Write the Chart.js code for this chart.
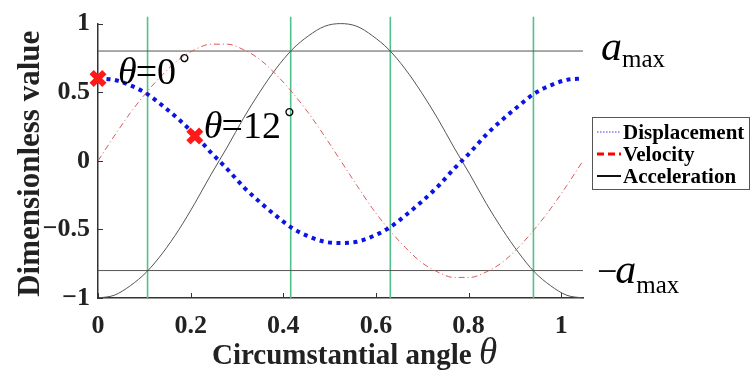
<!DOCTYPE html>
<html>
<head>
<meta charset="utf-8">
<script src="https://cdn.jsdelivr.net/npm/chart.js@4"></script>
<style>
  html, body { margin: 0; padding: 0; background: #fff; }
  #wrap { width: 750px; height: 371px; position: relative; }
</style>
</head>
<body>
<div id="wrap"><canvas id="motionChart" width="750" height="371"></canvas></div>
<script>
// Ángulo circunferencial (rad), cada 2 grados de 0 a 60
const angleRad = [0.000, 0.035, 0.070, 0.105, 0.140, 0.175, 0.209, 0.244, 0.279, 0.314,
                  0.349, 0.384, 0.419, 0.454, 0.489, 0.524, 0.559, 0.593, 0.628, 0.663,
                  0.698, 0.733, 0.768, 0.803, 0.838, 0.873, 0.908, 0.942, 0.977, 1.012, 1.047];
const displacement = [0.60, 0.59, 0.55, 0.49, 0.40, 0.30, 0.19, 0.06, -0.06, -0.19,
                      -0.30, -0.40, -0.49, -0.55, -0.59, -0.60, -0.59, -0.55, -0.49, -0.40,
                      -0.30, -0.19, -0.06, 0.06, 0.19, 0.30, 0.40, 0.49, 0.55, 0.59, 0.60];
const velocity = [0.00, 0.18, 0.35, 0.50, 0.63, 0.74, 0.81, 0.85, 0.85, 0.81,
                  0.74, 0.63, 0.50, 0.35, 0.18, 0.00, -0.18, -0.35, -0.50, -0.63,
                  -0.74, -0.81, -0.85, -0.85, -0.81, -0.74, -0.63, -0.50, -0.35, -0.18, 0.00];
const acceleration = [-1.00, -0.98, -0.91, -0.81, -0.67, -0.50, -0.31, -0.10, 0.10, 0.31,
                      0.50, 0.67, 0.81, 0.91, 0.98, 1.00, 0.98, 0.91, 0.81, 0.67,
                      0.50, 0.31, 0.10, -0.10, -0.31, -0.50, -0.67, -0.81, -0.91, -0.98, -1.00];

// Límites de aceleración y cruces con ellos
const accelLimit = 0.8;
const limitCrossings = [0.107, 0.416, 0.631, 0.940];
const crossingTop = 1.05;

// Posiciones marcadas (θ=0° y θ=12°)
const markerAngles = [0.000, 0.209];
const markerValues = [0.60, 0.18];
const markerLabels = ['0', '12'];

// Ejes
const xMin = 0, xMax = 1.047, xStep = 0.2;
const yMin = -1, yMax = 1, yStep = 0.5;

const serif = '"Liberation Serif", "Times New Roman", serif';
const greenLine = '#52c28a';
const grayLine = '#555555';

const toPoints = (xs, ys) => xs.map((x, i) => ({ x: x, y: ys[i] }));

const datasets = [];

// Líneas verticales en los cruces
limitCrossings.forEach(function (c) {
    datasets.push({
        label: 'cruce',
        data: [{ x: c, y: yMin }, { x: c, y: crossingTop }],
        borderColor: greenLine,
        borderWidth: 1.6,
        pointRadius: 0,
        clip: false,
        order: 6
    });
});

// Líneas horizontales ±a_max
[accelLimit, -accelLimit].forEach(function (v) {
    datasets.push({
        label: 'limite',
        data: [{ x: xMin, y: v }, { x: xMax, y: v }],
        borderColor: grayLine,
        borderWidth: 1,
        pointRadius: 0,
        order: 5
    });
});

datasets.push({
    label: 'Acceleration',
    data: toPoints(angleRad, acceleration),
    borderColor: '#555555',
    borderWidth: 1,
    pointRadius: 0,
    cubicInterpolationMode: 'monotone',
    clip: 3,
    order: 4
});

datasets.push({
    label: 'Velocity',
    data: toPoints(angleRad, velocity),
    borderColor: '#d95a5a',
    borderWidth: 1,
    borderDash: [6, 3, 1, 3],
    pointRadius: 0,
    cubicInterpolationMode: 'monotone',
    order: 3
});

datasets.push({
    label: 'Displacement',
    data: toPoints(angleRad, displacement),
    borderColor: '#0a14e6',
    borderWidth: 4,
    borderDash: [4, 4.5],
    borderCapStyle: 'butt',
    pointRadius: 0,
    cubicInterpolationMode: 'monotone',
    order: 2
});

datasets.push({
    label: 'Marcadores',
    data: toPoints(markerAngles, markerValues),
    showLine: false,
    pointStyle: 'crossRot',
    pointRadius: 9,
    pointBorderWidth: 6,
    pointBorderColor: '#ff1a1a',
    clip: false,
    order: 1
});

// Marcas de graduación hacia dentro, etiquetas y leyenda
const decorPlugin = {
    id: 'decor',
    afterDraw(chart) {
        const ctx = chart.ctx;
        const xs = chart.scales.x, ys = chart.scales.y;
        const area = chart.chartArea;
        ctx.save();

        // ticks interiores
        ctx.strokeStyle = '#333';
        ctx.lineWidth = 1;
        xs.ticks.forEach(function (t) {
            const px = Math.round(xs.getPixelForValue(t.value)) + 0.5;
            ctx.beginPath();
            ctx.moveTo(px, area.bottom);
            ctx.lineTo(px, area.bottom - 5);
            ctx.stroke();
        });
        ys.ticks.forEach(function (t) {
            const py = Math.round(ys.getPixelForValue(t.value)) + 0.5;
            ctx.beginPath();
            ctx.moveTo(area.left, py);
            ctx.lineTo(area.left + 5, py);
            ctx.stroke();
        });

        // etiquetas θ=...°
        ctx.fillStyle = '#000';
        ctx.textBaseline = 'alphabetic';
        ctx.textAlign = 'left';
        const offsets = [[20, 6], [9, 2]];
        markerAngles.forEach(function (a, i) {
            let px = xs.getPixelForValue(a) + offsets[i][0];
            const py = ys.getPixelForValue(markerValues[i]) + offsets[i][1];
            ctx.font = 'italic 38px ' + serif;
            ctx.fillText('θ', px, py);
            px += ctx.measureText('θ').width - 1;
            ctx.font = '38px ' + serif;
            const s = '=' + markerLabels[i];
            ctx.fillText(s, px, py);
            px += ctx.measureText(s).width + 3;
            ctx.font = '27px ' + serif;
            ctx.fillText('°', px, py - 12);
        });

        // a_max y −a_max
        const drawAmax = function (x, base, sign) {
            let px = x;
            if (sign) {
                ctx.font = '36px ' + serif;
                ctx.fillText('−', px, base);
                px += ctx.measureText('−').width - 2;
            }
            ctx.font = 'italic 42px ' + serif;
            ctx.fillText('a', px, base);
            px += ctx.measureText('a').width;
            ctx.font = '25px ' + serif;
            ctx.fillText('max', px, base + (sign ? 10 : 7));
        };
        drawAmax(area.right + 18, ys.getPixelForValue(accelLimit) + 9, false);
        drawAmax(area.right + 14, ys.getPixelForValue(-accelLimit) + 12, true);

        // leyenda
        const lx = 592, ly = 117, lw = 157, lh = 72;
        ctx.fillStyle = '#fff';
        ctx.fillRect(lx, ly, lw, lh);
        ctx.strokeStyle = '#555';
        ctx.lineWidth = 1;
        ctx.strokeRect(lx + 0.5, ly + 0.5, lw, lh);
        const entries = [
            { text: 'Displacement', color: '#3a3ae6', width: 1, dash: [1.5, 1.5] },
            { text: 'Velocity', color: '#ff0000', width: 3, dash: [7, 4] },
            { text: 'Acceleration', color: '#111', width: 2, dash: [] }
        ];
        ctx.font = 'bold 21px ' + serif;
        entries.forEach(function (e, i) {
            const y = ly + 22 + i * 22;
            ctx.strokeStyle = e.color;
            ctx.lineWidth = e.width;
            ctx.setLineDash(e.dash);
            ctx.beginPath();
            ctx.moveTo(lx + 5, y - 7);
            ctx.lineTo(lx + 29, y - 7);
            ctx.stroke();
            ctx.setLineDash([]);
            ctx.fillStyle = '#000';
            ctx.fillText(e.text, lx + 31, y);
        });

        // títulos de ejes
        ctx.fillStyle = '#222';
        ctx.font = 'bold 29px ' + serif;
        const xt = 'Circumstantial angle ';
        const xw = ctx.measureText(xt).width;
        ctx.fillText(xt, 212, 364);
        ctx.font = 'italic 37px ' + serif;
        ctx.fillText('θ', 212 + xw, 364);

        ctx.save();
        ctx.translate(39, (area.top + area.bottom) / 2 + 3);
        ctx.rotate(-Math.PI / 2);
        ctx.textAlign = 'center';
        ctx.font = 'bold 31px ' + serif;
        ctx.fillText('Dimensionless value', 0, 0);
        ctx.restore();

        ctx.restore();
    }
};

const canvas = document.getElementById('motionChart');
new Chart(canvas.getContext('2d'), {
    type: 'line',
    data: { datasets: datasets },
    options: {
        responsive: false,
        animation: false,
        layout: { padding: { top: 20, right: 167, left: 0, bottom: 0 } },
        plugins: {
            legend: { display: false },
            tooltip: { enabled: false }
        },
        scales: {
            x: {
                type: 'linear',
                min: xMin,
                max: xMax,
                afterFit: function (s) { s.height = 73; },
                grid: { display: true, drawOnChartArea: false, drawTicks: false },
                border: { display: true, color: '#333', width: 1.5 },
                ticks: {
                    stepSize: xStep,
                    includeBounds: false,
                    padding: 13,
                    color: '#222',
                    font: { family: serif, size: 26, weight: 'bold' },
                    callback: function (v) { return String(Math.round(v * 10) / 10); }
                }
            },
            y: {
                min: yMin,
                max: yMax,
                afterFit: function (s) { s.width = 98; },
                grid: { display: true, drawOnChartArea: false, drawTicks: false },
                border: { display: true, color: '#333', width: 1.5 },
                ticks: {
                    stepSize: yStep,
                    padding: 8,
                    color: '#222',
                    font: { family: serif, size: 26, weight: 'bold' },
                    callback: function (v) { return String(v).replace('-', '−'); }
                }
            }
        }
    },
    plugins: [decorPlugin]
});
</script>
</body>
</html>
